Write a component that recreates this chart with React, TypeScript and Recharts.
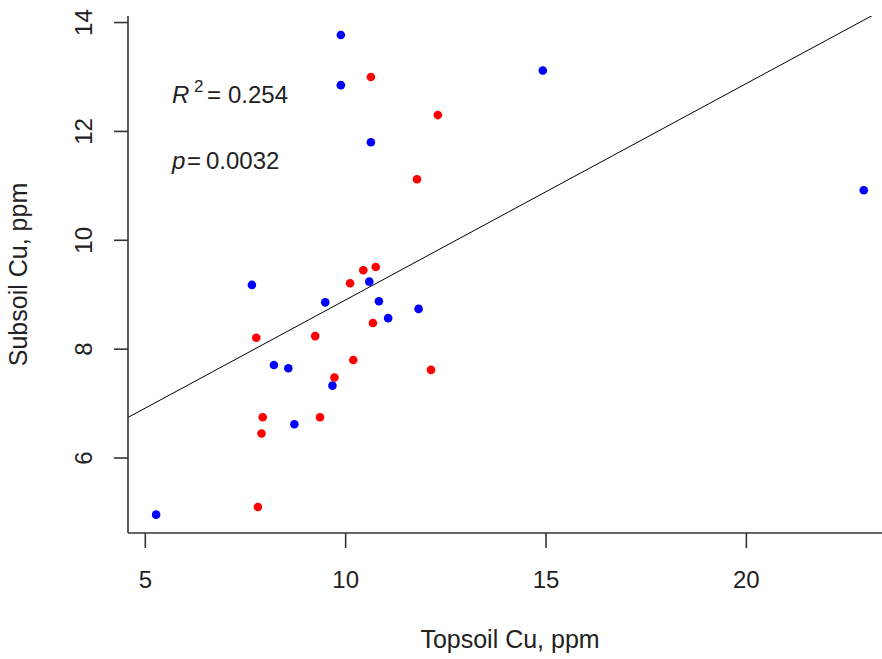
import {
  ScatterChart,
  Scatter,
  XAxis,
  YAxis,
  ReferenceLine,
  Customized,
} from "recharts";

const blueX = [9.88, 9.88, 10.63, 7.66, 10.59, 9.49, 10.83, 11.82, 11.06, 8.21, 8.57, 9.67, 8.72, 5.27, 14.92, 22.93];
const blueY = [13.77, 12.85, 11.8, 9.18, 9.24, 8.86, 8.88, 8.74, 8.57, 7.71, 7.65, 7.33, 6.62, 4.96, 13.12, 10.92];
const redX = [10.63, 12.3, 11.78, 10.11, 10.44, 10.75, 10.68, 7.77, 9.24, 10.19, 12.13, 9.72, 7.93, 7.9, 9.36, 7.81];
const redY = [13.0, 12.3, 11.12, 9.21, 9.45, 9.51, 8.48, 8.21, 8.24, 7.8, 7.62, 7.48, 6.75, 6.45, 6.75, 5.1];

const xTicks = [5, 10, 15, 20];
const yTicks = [6, 8, 10, 12, 14];
const xDomain = [4.568, 23.385];
const yDomain = [4.623, 14.12];

// fitted line
const intercept = 4.93;
const slope = 0.3975;

const rSquared = "0.254";
const pValue = "0.0032";

const blueData = blueX.map((x, i) => ({ x, y: blueY[i] }));
const redData = redX.map((x, i) => ({ x, y: redY[i] }));

const FONT = "'Liberation Sans', Arial, sans-serif";
const AXIS = "#333";

const Dot = (color: string) => (props: any) =>
  <circle cx={props.cx} cy={props.cy} r={4.3} fill={color} />;

const YTick = (props: any) => {
  const { x, y, payload } = props;
  return (
    <text
      transform={`translate(${x - 22},${y}) rotate(-90)`}
      textAnchor="middle"
      fontSize={24}
      fontFamily={FONT}
      fill="#222"
    >
      {payload.value}
    </text>
  );
};

const Annotation = () => (
  <g fontFamily={FONT} fontSize={24} fill="#222">
    <text x={172} y={103} fontStyle="italic">R</text>
    <text x={194} y={92} fontSize={17}>2</text>
    <text x={207} y={103}>=</text>
    <text x={228} y={103}>{rSquared}</text>
    <text x={172} y={169} fontStyle="italic">p</text>
    <text x={187} y={169}>=</text>
    <text x={206} y={169}>{pValue}</text>
  </g>
);

export default function App() {
  return (
    <div style={{ position: "absolute", left: 0, top: 0, background: "#fff" }}>
      <ScatterChart
        width={882}
        height={659}
        margin={{ top: 16, right: 0, bottom: 0, left: 0 }}
      >
        <XAxis
          type="number"
          dataKey="x"
          domain={xDomain}
          ticks={xTicks}
          allowDataOverflow
          height={126}
          tickSize={15}
          tickMargin={23}
          axisLine={{ stroke: AXIS, strokeWidth: 1.6 }}
          tickLine={{ stroke: AXIS, strokeWidth: 1.6 }}
          tick={{ fontSize: 24, fontFamily: FONT, fill: "#222" }}
          label={{
            value: "Topsoil Cu, ppm",
            position: "insideBottom",
            offset: 11,
            dx: 5,
            fontSize: 25,
            fontFamily: FONT,
            fill: "#222",
          }}
        />
        <XAxis
          xAxisId="top"
          orientation="top"
          type="number"
          domain={xDomain}
          height={0}
          tick={false}
          tickLine={false}
          axisLine={{ stroke: AXIS, strokeWidth: 1.6 }}
        />
        <YAxis
          type="number"
          dataKey="y"
          domain={yDomain}
          ticks={yTicks}
          allowDataOverflow
          width={128}
          tickSize={14}
          tickMargin={0}
          axisLine={{ stroke: AXIS, strokeWidth: 1.6 }}
          tickLine={{ stroke: AXIS, strokeWidth: 1.6 }}
          tick={<YTick />}
          label={{
            value: "Subsoil Cu, ppm",
            angle: -90,
            position: "insideLeft",
            offset: 18,
            fontSize: 25,
            fontFamily: FONT,
            fill: "#222",
            style: { textAnchor: "middle" },
          }}
        />
        <ReferenceLine
          segment={[
            { x: xDomain[0], y: intercept + slope * xDomain[0] },
            { x: xDomain[1], y: intercept + slope * xDomain[1] },
          ]}
          ifOverflow="hidden"
          stroke="#000"
          strokeWidth={1}
        />
        <Scatter
          data={blueData}
          fill="#0000FF"
          shape={Dot("#0000FF")}
          isAnimationActive={false}
        />
        <Scatter
          data={redData}
          fill="#FF0000"
          shape={Dot("#FF0000")}
          isAnimationActive={false}
        />
        <Customized component={Annotation} />
      </ScatterChart>
    </div>
  );
}
